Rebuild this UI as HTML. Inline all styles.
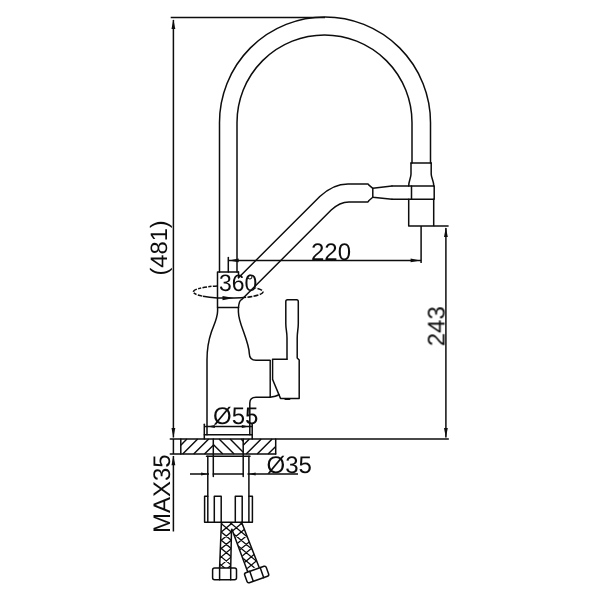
<!DOCTYPE html>
<html>
<head>
<meta charset="utf-8">
<title>Faucet dimensions</title>
<style>
html,body{margin:0;padding:0;background:#fff;}
body{width:600px;height:600px;overflow:hidden;}
svg{display:block;}
text{font-family:"Liberation Sans",sans-serif;fill:#0d0d0d;text-rendering:geometricPrecision;}
.l{fill:none;stroke:#0d0d0d;stroke-width:1.5;stroke-linecap:round;stroke-linejoin:round;}
.t{fill:none;stroke:#0d0d0d;stroke-width:1.5;stroke-linecap:butt;}
.h{fill:none;stroke:#0d0d0d;stroke-width:1.45;stroke-linecap:butt;}
.b{fill:none;stroke:#0d0d0d;stroke-width:1.3;stroke-linecap:butt;}
.a{fill:#0d0d0d;stroke:none;}
</style>
</head>
<body>
<svg width="600" height="600" viewBox="0 0 600 600">
<rect width="600" height="600" fill="#fff"/>
<!-- labels -->
<g opacity="0.999">
<text transform="translate(219 290.7) scale(0.965 1)" font-size="23.8">360</text>
<text x="246.3" y="287.4" font-size="18">°</text>
<text x="311" y="259.6" font-size="24">220</text>
<text x="213" y="424.2" font-size="24">Ø55</text>
<text x="266.6" y="472.9" font-size="24">Ø35</text>
<text transform="translate(166.8 275.6) rotate(-90)" font-size="23.7">(481)</text>
<text transform="translate(444.5 346.3) rotate(-90)" font-size="24">243</text>
<text transform="translate(169.8 533) rotate(-90)" font-size="24">MAX35</text>
</g>
<!-- spout arc -->
<g class="l">
<path d="M219.5 272 V122.5 A105.5 105.5 0 0 1 430.5 122.5 V163"/>
<path d="M237 272 V122.5 A87.5 87.5 0 0 1 412 122.5 V163"/>
</g>
<!-- spout head -->
<g class="l">
<path d="M411 163 H431.2"/>
<path d="M411 163 V174 C411 178 408.7 181 408.7 186"/>
<path d="M431.2 163 V174 C431.2 178 433.8 181 433.8 186"/>
<path d="M392 186 H434.2 V199.2 H392"/>
<path d="M411.5 186 V199.2"/>
<path d="M408.7 199.2 V226 H433.7 V199.2"/>
<!-- arm -->
<path d="M392 186 L372.8 188.3 V197.3 L392 199.2"/>
<path d="M372.8 188.3 L369 185.2 L368 183.9 H348 Q333 183.9 319.8 196.5 L238.5 277.8"/>
<path d="M372.8 197.3 L369 200.5 L368 201.9 H349 Q339.7 201.9 331.2 210 L241.5 299.7 Q239 301 238.5 307.5"/>
</g>
<!-- neck box -->
<g class="l">
<path d="M238.5 272 H217.5 V307.5 H238.5"/>
<path d="M238.5 272 V277.8"/>
<path d="M228.3 257.5 V272"/>
</g>
<!-- body -->
<g class="l">
<path d="M217.6 307.5 V311 C217.6 318 213.5 326 211.3 332.3 C209 339 207 349 207 360 V434.8"/>
<path d="M238.4 307.5 V312 C238.6 318 241 325 243.3 331 C246 338.5 249.2 347 249.3 353.5 Q249.5 360.3 256 360.3 H270"/>
<path d="M272.5 359.3 H287"/>
<path d="M270 397.2 H256 Q249.8 397.2 249.8 403 V434.8"/>
<!-- handle -->
<path d="M287 359.3 V338 C287 332 285.8 329 285.8 323.5 V301.5 Q285.8 299.7 287.5 299.7 H296.6 Q298.3 299.7 298.3 301.5 V323.5 C298.3 329 297.2 332 297.2 338 V358 L299.2 360 V398.4 H280.5 L272.6 379.5"/>
<path d="M270 397.2 Q276 396.7 279 394.7"/>
<path d="M285.3 399.1 H289.5" style="stroke-width:1.9"/>
</g>
<g class="h">
<path d="M270.2 360 V397"/>
<path d="M272.6 359.3 V379.5"/>
</g>
<!-- base flange and countertop -->
<g class="l">
<path d="M204.3 424.2 V439.1"/>
<path d="M252.2 424.2 V439.1"/>
<path d="M204.3 434.8 H252.2"/>
<path d="M170.3 439.1 H448.3"/>
<path d="M170.3 454.1 H275.7"/>
<path d="M180.8 439.1 V454.1"/>
<path d="M275.7 439.1 V454.1"/>
<path d="M213.3 439.1 V476.5"/>
<path d="M243.2 439.1 V476.5"/>
<path d="M206.5 456.3 H250"/>
<path d="M207.8 456.3 V522.2"/>
<path d="M248.9 456.3 V522.2"/>
</g>
<g class="h"><path d="M180.8 445.2 L186.9 439.1 M182.7 454.1 L197.7 439.1 M193.7 454.1 L208.7 439.1 M204.5 454.1 L213.3 445.3 M213.3 444.6 L222.8 454.1 M219.1 439.1 L234.1 454.1 M230.1 439.1 L243.2 452.2 M241.1 439.1 L243.2 441.2 M243.2 445.3 L249.4 439.1 M246.2 454.1 L261.2 439.1 M257.2 454.1 L272.2 439.1 M268.1 454.1 L275.7 446.5"/></g>
<!-- lock nut -->
<g class="l">
<path d="M207.8 496.3 H204.6 V522.2 H252.4 V496.3 H248.9"/>
<path d="M214.3 522.2 V496.3 H221.2 V522.2"/>
<path d="M235.3 522.2 V496.3 H242.2 V522.2"/>
</g>
<!-- hoses -->
<defs>
<clipPath id="hc1"><path d="M221.4 522.2 L219.6 568 H230.7 L231.6 522.2 Z"/></clipPath>
<clipPath id="hc2"><path d="M229.2 522.2 L248 570.5 L258.6 566 L241.6 522.2 Z"/></clipPath>
</defs>
<g class="b" clip-path="url(#hc1)"><path d="M210 447.9 L270 497.7 M210 456.2 L270 506.0 M210 464.5 L270 514.3 M210 472.8 L270 522.6 M210 481.1 L270 530.9 M210 489.4 L270 539.2 M210 497.7 L270 547.5 M210 506.0 L270 555.8 M210 514.3 L270 564.1 M210 522.6 L270 572.4 M210 530.9 L270 580.7 M210 539.2 L270 589.0 M210 547.5 L270 597.3 M210 555.8 L270 605.6 M210 564.1 L270 613.9 M210 572.4 L270 622.2 M210 580.7 L270 630.5 M210 474.9 L270 425.1 M210 483.2 L270 433.4 M210 491.5 L270 441.7 M210 499.8 L270 450.0 M210 508.1 L270 458.3 M210 516.4 L270 466.6 M210 524.7 L270 474.9 M210 533.0 L270 483.2 M210 541.3 L270 491.5 M210 549.6 L270 499.8 M210 557.9 L270 508.1 M210 566.2 L270 516.4 M210 574.5 L270 524.7 M210 582.8 L270 533.0 M210 591.1 L270 541.3 M210 599.4 L270 549.6 M210 607.7 L270 557.9"/></g>
<g class="b" clip-path="url(#hc2)"><path d="M210 447.9 L270 497.7 M210 456.2 L270 506.0 M210 464.5 L270 514.3 M210 472.8 L270 522.6 M210 481.1 L270 530.9 M210 489.4 L270 539.2 M210 497.7 L270 547.5 M210 506.0 L270 555.8 M210 514.3 L270 564.1 M210 522.6 L270 572.4 M210 530.9 L270 580.7 M210 539.2 L270 589.0 M210 547.5 L270 597.3 M210 555.8 L270 605.6 M210 564.1 L270 613.9 M210 572.4 L270 622.2 M210 580.7 L270 630.5 M210 474.9 L270 425.1 M210 483.2 L270 433.4 M210 491.5 L270 441.7 M210 499.8 L270 450.0 M210 508.1 L270 458.3 M210 516.4 L270 466.6 M210 524.7 L270 474.9 M210 533.0 L270 483.2 M210 541.3 L270 491.5 M210 549.6 L270 499.8 M210 557.9 L270 508.1 M210 566.2 L270 516.4 M210 574.5 L270 524.7 M210 582.8 L270 533.0 M210 591.1 L270 541.3 M210 599.4 L270 549.6 M210 607.7 L270 557.9"/></g>
<g class="l">
<path d="M221.4 522.2 L219.6 568"/>
<path d="M231.5 530 L230.7 568"/>
<path d="M231.9 529.2 L247.6 571.6"/>
<path d="M241.6 522.2 L259 567"/>
<rect x="212.6" y="568.1" width="23.9" height="11.6" rx="2"/>
<path d="M219.6 568.1 V579.7 M230.7 568.1 V579.7"/>
<g transform="rotate(-19.3 256.65 574.5)">
<rect x="245.2" y="569.2" width="22.9" height="10.6" rx="1.8"/>
<path d="M251.2 569.2 V579.8 M262.3 569.2 V579.8"/>
</g>
</g>
<!-- dimension lines -->
<g class="t">
<path d="M170.7 17.5 H325"/>
<path d="M173.4 20 V437.5 M173.4 439.1 V454.1 M173.4 456 V531.5"/>
<path d="M228.3 260.4 H421.1"/>
<path d="M421.1 226 V263"/>
<path d="M433.7 226 H448.6"/>
<path d="M445.9 228 V437.5"/>
<path d="M204.3 426.6 H252.2"/>
<path d="M190 474.1 H209 M212.7 474.1 H243.4 M247.5 474.1 H298"/>
</g>
<g class="a">
<path d="M173.4 19.3 L171.5 29.0 L175.3 29.0 Z"/>
<path d="M173.4 437.8 L175.3 428.1 L171.5 428.1 Z"/>
<path d="M173.4 455.6 L171.5 465.3 L175.3 465.3 Z"/>
<path d="M445.9 227.2 L444.0 236.9 L447.8 236.9 Z"/>
<path d="M445.9 437.8 L447.8 428.1 L444.0 428.1 Z"/>
<path d="M229.0 260.4 L238.7 262.3 L238.7 258.5 Z"/>
<path d="M420.3 260.4 L410.6 258.5 L410.6 262.3 Z"/>
<path d="M207.8 426.6 L214.8 428.1 L214.8 425.1 Z"/>
<path d="M248.8 426.6 L241.8 425.1 L241.8 428.1 Z"/>
<path d="M207.6 474.1 L201.1 472.6 L201.1 475.6 Z"/>
<path d="M249.1 474.1 L255.6 475.6 L255.6 472.6 Z"/>
</g>
<!-- rotation ellipse -->
<g class="t" style="stroke-width:1.5">
<path d="M217.5 285.9 A34.8 6.3 0 0 0 203 296.25" stroke-dasharray="4.6 1.3 3.2 1.3"/>
<path d="M203 296.25 A34.8 6.3 0 0 0 217.5 297.9"/>
<path d="M241 297.76 A34.8 6.3 0 0 0 255.5 288" stroke-dasharray="5 1.3"/>
<path d="M217.5 297.9 Q229 298.4 241 297.76"/>
</g>
<path class="a" d="M234 298.1 L222.5 296 V300.2 Z"/>
</svg>
</body>
</html>
